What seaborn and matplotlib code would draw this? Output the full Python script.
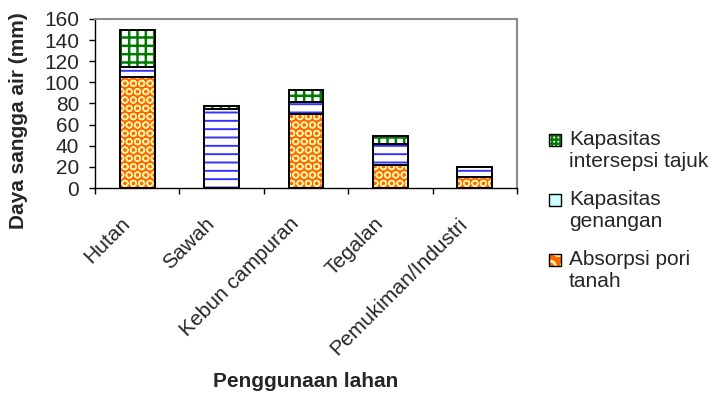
import matplotlib
matplotlib.use("Agg")
import matplotlib.pyplot as plt
from matplotlib.patches import Patch, Rectangle
from matplotlib.legend_handler import HandlerBase
from matplotlib.transforms import ScaledTranslation
import numpy as np
import pandas as pd
import seaborn as sns

# Land-use categories and water-holding components (mm)
categories = ["Hutan", "Sawah", "Kebun campuran", "Tegalan", "Pemukiman/Industri"]
absorpsi = [105, 0, 70, 22, 10]        # Absorpsi pori tanah
genangan = [10, 75, 11, 20, 10]        # Kapasitas genangan
intersepsi = [35, 3, 12, 7, 0]         # Kapasitas intersepsi tajuk

sns.set_theme(style="white")
plt.rcParams["font.family"] = ["Liberation Sans", "DejaVu Sans"]
plt.rcParams["hatch.linewidth"] = 1.6

df = pd.DataFrame({"lahan": categories,
                   "absorpsi": absorpsi,
                   "genangan": genangan,
                   "intersepsi": intersepsi})
df["top_abs"] = df["absorpsi"]
df["top_gen"] = df["absorpsi"] + df["genangan"]
df["top_int"] = df["top_gen"] + df["intersepsi"]

fig = plt.figure(figsize=(7.11, 3.95), dpi=100)
ax = fig.add_axes([95 / 711, 1 - 188 / 395, (517 - 95) / 711, (188 - 19) / 395])

bw = 0.41
# (column, face colour, hatch colour, hatch, hatch width) for each stacked component
styles = {
    "intersepsi": ("top_int", "white", "#007A00", "++", 1.8),
    "genangan": ("top_gen", "white", "#3333FF", "--", 1.4),
    "absorpsi": ("top_abs", "#FF6600", "#FFF0A0", "OO", 1.1),
}
# layers drawn from the full stack downward; each lower layer covers the one above
for key in ["intersepsi", "genangan", "absorpsi"]:
    col, face, hcol, hatch, hlw = styles[key]
    n0 = len(ax.patches)
    sns.barplot(data=df, x="lahan", y=col, ax=ax, color=face, width=bw,
                saturation=1, errorbar=None, linewidth=0)
    for p in ax.patches[n0:]:
        p.set_facecolor(face)
        p.set_hatch(hatch)
        p.set_edgecolor(hcol)
        p.set_linewidth(0)
        if hasattr(p, "set_hatch_linewidth"):
            p.set_hatch_linewidth(hlw)
    sns.barplot(data=df, x="lahan", y=col, ax=ax, fill=False, width=bw,
                errorbar=None, edgecolor="black", linewidth=1.4)

ax.set_xlim(-0.5, len(categories) - 0.5)
ax.set_ylim(0, 160)
ax.set_yticks(np.arange(0, 161, 20))
ax.tick_params(axis="y", which="major", direction="out", length=4.5, width=1,
               color="black", labelsize=15, pad=7, left=True)
ax.set_xticks(np.arange(len(categories)))
ax.set_xticklabels(categories, rotation=45, ha="right", rotation_mode="anchor",
                   fontsize=15)
ax.tick_params(axis="x", which="major", length=0, pad=0)
shift = ScaledTranslation(-17 / 100, -26 / 100, fig.dpi_scale_trans)
for lab in ax.get_xticklabels():
    lab.set_transform(lab.get_transform() + shift)
ax.set_xticks(np.arange(-0.5, len(categories)), minor=True)
ax.tick_params(axis="x", which="minor", direction="out", length=4.5, width=1,
               color="black", bottom=True)

for side in ["left", "bottom"]:
    ax.spines[side].set_color("black")
    ax.spines[side].set_linewidth(1)
for side in ["top", "right"]:
    ax.spines[side].set_visible(True)
    ax.spines[side].set_color("#8C8C8C")
    ax.spines[side].set_linewidth(1.5)

ax.set_ylabel("Daya sangga air (mm)", fontsize=15, fontweight="bold", va="center")
ax.yaxis.set_label_coords((19 - 95) / 422, 0.40)
ax.set_xlabel("Penggunaan lahan", fontsize=15, fontweight="bold", va="top")
ax.xaxis.set_label_coords(0.5, (188 - 372) / 169)


class FirstLineHandler(HandlerBase):
    """Square key aligned with the first line of a two-line label, with a black frame."""

    def __init__(self, face, hcol=None, hatch=None):
        super().__init__()
        self.face, self.hcol, self.hatch = face, hcol, hatch

    def create_artists(self, legend, orig_handle, xdescent, ydescent, width,
                       height, fontsize, trans):
        size = 0.58 * fontsize
        x0 = -xdescent
        y0 = -ydescent + 0.55 * fontsize
        arts = []
        if self.hatch:
            fill = Rectangle((x0, y0), size, size, facecolor=self.face,
                             edgecolor=self.hcol, hatch=self.hatch, linewidth=0,
                             transform=trans)
            arts.append(fill)
            frame = Rectangle((x0, y0), size, size, fill=False, edgecolor="black",
                              linewidth=1, transform=trans)
        else:
            frame = Rectangle((x0, y0), size, size, facecolor=self.face,
                              edgecolor="black", linewidth=1, transform=trans)
        arts.append(frame)
        return arts


h_int, h_gen, h_abs = Patch(), Patch(), Patch()
handles = [h_int, h_gen, h_abs]
labels = ["Kapasitas\nintersepsi tajuk", "Kapasitas\ngenangan", "Absorpsi pori\ntanah"]
fig.legend(handles, labels, loc="upper left", bbox_to_anchor=(549 / 711, 1 - 130 / 395),
           frameon=False, fontsize=15, handlelength=0.6, handleheight=0.6,
           handletextpad=0.35, labelspacing=0.92, borderaxespad=0, borderpad=0,
           handler_map={
               h_int: FirstLineHandler("white", "#007A00", "++++"),
               h_gen: FirstLineHandler("#CCFFFF"),
               h_abs: FirstLineHandler("#FF6600", "#FFF0A0", "O"),
           })

fig.savefig("out.png", dpi=100)
